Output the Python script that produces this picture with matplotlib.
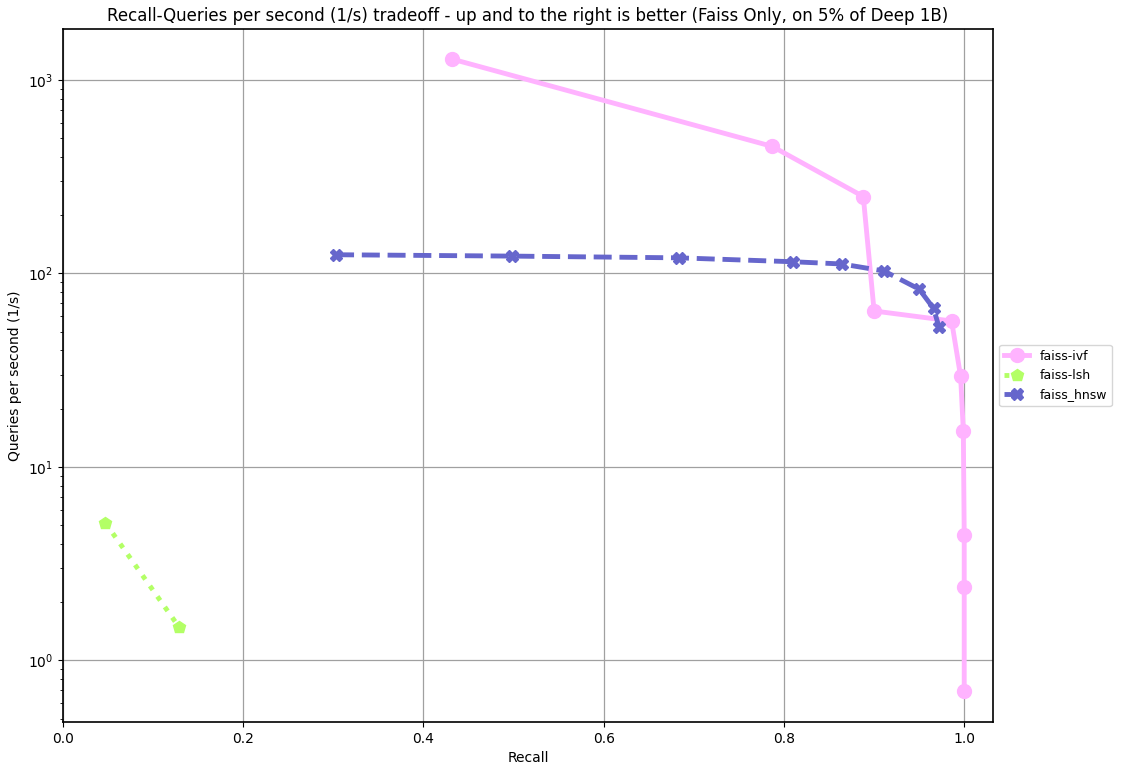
import matplotlib
matplotlib.use("Agg")
import matplotlib.pyplot as plt

# recall / qps per algorithm
ivf_recall = [0.432, 0.787, 0.888, 0.900, 0.986, 0.996, 0.999, 1.0, 1.0, 1.0]
ivf_qps = [1283, 454, 250, 64, 56.8, 29.4, 15.4, 4.45, 2.39, 0.69]

lsh_recall = [0.047, 0.129]
lsh_qps = [5.14, 1.48]

hnsw_recall = [0.303, 0.498, 0.683, 0.810, 0.864, 0.911, 0.950, 0.966, 0.972]
hnsw_qps = [125, 123, 120.5, 115, 112, 103, 83, 66, 52.8]

fig = plt.figure(figsize=(11.37, 7.73), dpi=100)
ax = fig.add_axes([0.0554, 0.066, 0.818, 0.8965])

ax.plot(ivf_recall, ivf_qps, '-', marker='o', color='#ffb3ff', lw=3.5, ms=10,
        label='faiss-ivf')
ax.plot(lsh_recall, lsh_qps, ':', marker='p', color='#b3ff66', lw=3.5, ms=9,
        label='faiss-lsh')
ax.plot(hnsw_recall, hnsw_qps, '--', marker='X', color='#6666cc', lw=3.5, ms=8,
        label='faiss_hnsw')

ax.set_yscale('log')
ax.set_xlim(0, 1.032)
ax.set_ylim(0.48, 1837)
ax.set_xlabel('Recall')
ax.set_ylabel('Queries per second (1/s)')
ax.set_title('Recall-Queries per second (1/s) tradeoff - up and to the right is better (Faiss Only, on 5% of Deep 1B)')
ax.grid(True, which='major', color='#a0a0a0', lw=0.9)
for s in ax.spines.values():
    s.set_linewidth(1.2)
ax.legend(loc='center left', bbox_to_anchor=(1, 0.5), prop={'size': 9})

plt.savefig('out.png', dpi=100)
